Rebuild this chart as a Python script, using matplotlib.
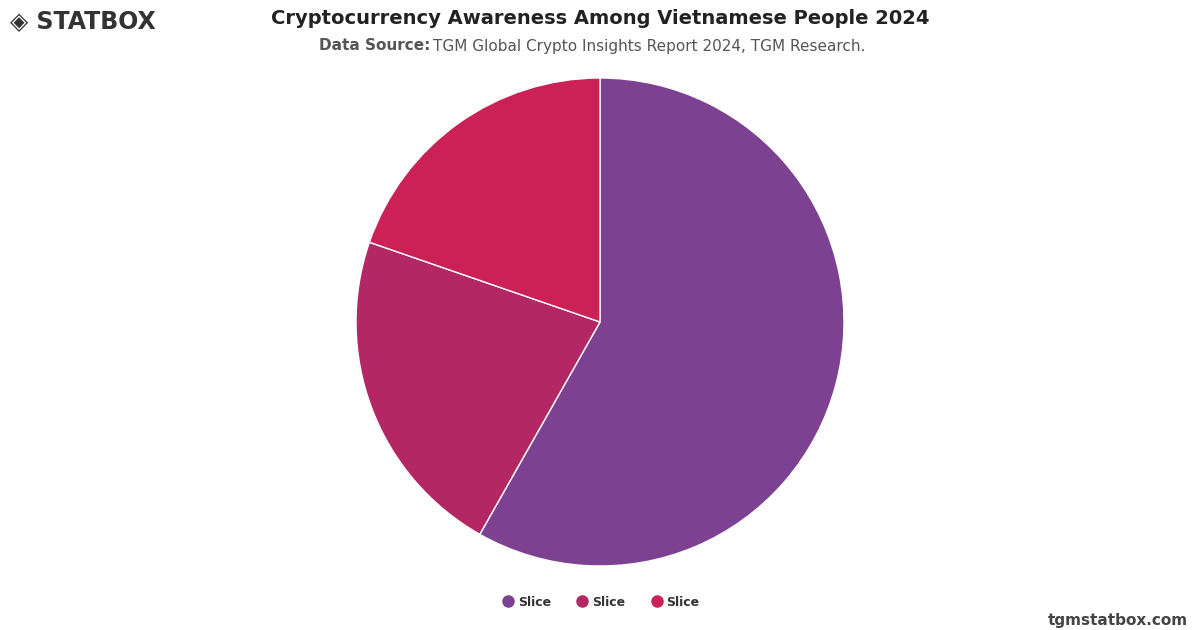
import matplotlib
matplotlib.use("Agg")
import matplotlib.pyplot as plt
from matplotlib.lines import Line2D

labels = ["Slice", "Slice", "Slice"]
values = [58.2, 22.1, 19.7]
colors = ["#7c4191", "#b32864", "#cb2157"]

fig = plt.figure(figsize=(12, 6.3), dpi=100)
ax = fig.add_axes([0, 0, 1, 1])
ax.set_xlim(0, 1200); ax.set_ylim(630, 0); ax.axis("off")

pax = fig.add_axes([(600-244)/1200, 1-(322+244)/630, 488/1200, 488/630])
pax.pie(values, colors=colors, startangle=90, counterclock=False,
        wedgeprops=dict(edgecolor="white", linewidth=1))
pax.set_xlim(-1, 1); pax.set_ylim(-1, 1)
pax.set_aspect("equal")

fig.text(0.5, 1-18/630, "Cryptocurrency Awareness Among Vietnamese People 2024",
         ha="center", va="center", fontsize=14, fontweight="bold", color="#222222")
ax.text(430, 46, "Data Source:", ha="right", va="center", fontsize=11,
        fontweight="bold", color="#555555")
ax.text(433, 46, "TGM Global Crypto Insights Report 2024, TGM Research.",
        ha="left", va="center", fontsize=11, color="#555555")

handles = [Line2D([0], [0], marker="o", linestyle="", markersize=8,
                  markerfacecolor=c, markeredgecolor=c) for c in colors]
fig.legend(handles, labels, loc="center", bbox_to_anchor=(0.5, 1-602/630), ncol=3,
           frameon=False, prop=dict(size=9, weight="bold"), handletextpad=0.2,
           handlelength=1.2, columnspacing=1.9, labelcolor="#333333")

ax.text(10, 21, "◈ STATBOX", ha="left", va="center", fontsize=17,
        fontweight="bold", color="#333333")
fig.text(1-12/1200, 1-620/630, "tgmstatbox.com", ha="right", va="center",
         fontsize=11, fontweight="bold", color="#444444")

fig.savefig("out.png", dpi=100)
